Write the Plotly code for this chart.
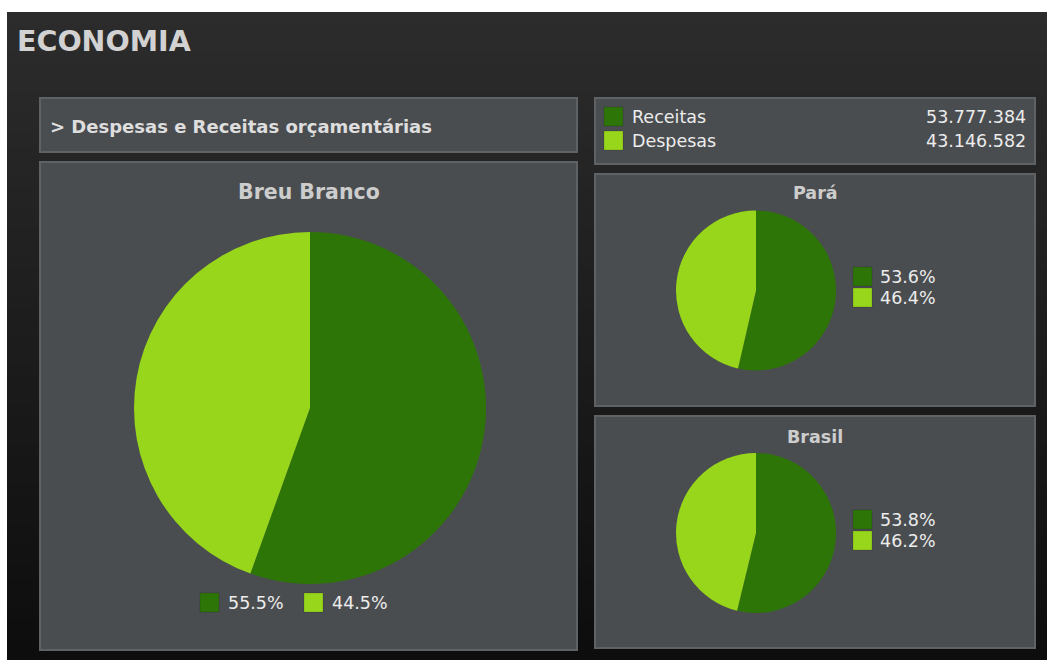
import plotly.graph_objects as go

# ---------------- data ----------------
categories = ["Receitas", "Despesas"]
totals = [53777384, 43146582]
breu_branco = [55.5, 44.5]
para = [53.6, 46.4]
brasil = [53.8, 46.2]
region_names = ["Breu Branco", "Pará", "Brasil"]
section_title = "ECONOMIA"
subtitle = "> Despesas e Receitas orçamentárias"
colors = ["#2e7508", "#97d61a"]

# ---------------- layout helpers ----------------
W, H = 1047, 660
FONT = "DejaVu Sans"


def fx(x):
    return x / W


def fy(y):
    return 1 - y / H


shapes = []
annotations = []

# page background with vertical gradient
top_c = (44, 44, 44)
bot_c = (13, 13, 13)
y0, y1 = 12, 660
n = 48
for i in range(n):
    t = i / (n - 1)
    c = tuple(round(top_c[k] + (bot_c[k] - top_c[k]) * t) for k in range(3))
    ya = y0 + (y1 - y0) * i / n
    yb = y0 + (y1 - y0) * (i + 1) / n + 0.6
    shapes.append(dict(type="rect", xref="paper", yref="paper", layer="below",
                       x0=fx(7), x1=fx(W), y0=fy(min(yb, H)), y1=fy(ya),
                       fillcolor="rgb(%d,%d,%d)" % c, line=dict(width=0)))

PANEL_FILL = "#4a4d50"
PANEL_LINE = "#5f6264"


def panel(x0, y0, x1, y1):
    shapes.append(dict(type="rect", xref="paper", yref="paper", layer="below",
                       x0=fx(x0 + 1), x1=fx(x1 - 1), y0=fy(y1 - 1), y1=fy(y0 + 1),
                       fillcolor=PANEL_FILL, line=dict(color=PANEL_LINE, width=2)))


panel(39, 97, 578, 153)
panel(39, 161, 578, 651)
panel(594, 97, 1036, 165)
panel(594, 173, 1036, 407)
panel(594, 415, 1036, 649)


def square(x, y, color, size=19):
    shapes.append(dict(type="rect", xref="paper", yref="paper", layer="above",
                       x0=fx(x), x1=fx(x + size), y0=fy(y + size), y1=fy(y),
                       fillcolor=color, line=dict(color="rgba(0,0,0,0.15)", width=1)))


def text(x, y, s, size, color="#e6e6e6", bold=False, anchor="left"):
    annotations.append(dict(xref="paper", yref="paper", x=fx(x), y=fy(y),
                            xanchor=anchor, yanchor="middle", showarrow=False,
                            text=("<b>%s</b>" % s) if bold else s,
                            font=dict(family=FONT, size=size, color=color)))


def fmt_num(v):
    return f"{v:,}".replace(",", ".")


def fmt_pct(v):
    return f"{v:.1f}%"


# headings
text(15, 41, section_title, 28.5, color="#d2d2d2", bold=True)
text(48, 126, subtitle, 18, color="#dedede", bold=True)

# top-right legend
for i, (cat, tot) in enumerate(zip(categories, totals)):
    yy = 107 + i * 24
    square(604, yy, colors[i])
    text(630, yy + 10, cat, 17.5, color="#ececec")
    text(1028, yy + 10, fmt_num(tot), 17.5, color="#ececec", anchor="right")

# ---------------- pies ----------------
fig = go.Figure()


def add_pie(values, name, cx, cy, r):
    fig.add_trace(go.Pie(
        values=values, labels=categories, name=name,
        marker=dict(colors=colors, line=dict(width=0)),
        sort=False, direction="clockwise", rotation=0,
        textinfo="none", hoverinfo="label+percent", showlegend=False,
        domain=dict(x=[fx(cx - r), fx(cx + r)], y=[fy(cy + r), fy(cy - r)]),
    ))


add_pie(breu_branco, region_names[0], 310, 408, 176)
add_pie(para, region_names[1], 756, 290.5, 80)
add_pie(brasil, region_names[2], 756, 533, 80)

# pie titles
text(309, 192, region_names[0], 20.5, color="#cdcdcd", bold=True, anchor="center")
text(815, 193, region_names[1], 17.5, color="#cdcdcd", bold=True, anchor="center")
text(815, 437, region_names[2], 17.5, color="#cdcdcd", bold=True, anchor="center")

# pie legends
for i, v in enumerate(breu_branco):
    xx = 200 + i * 104
    square(xx, 593, colors[i])
    text(xx + 26, 603, fmt_pct(v), 17.5, color="#ececec")

for vals, top in ((para, 267), (brasil, 510)):
    for i, v in enumerate(vals):
        yy = top + i * 21
        square(853, yy, colors[i])
        text(878, yy + 10, fmt_pct(v), 17.5, color="#ececec")

fig.update_layout(
    width=W, height=H, margin=dict(l=0, r=0, t=0, b=0),
    paper_bgcolor="#ffffff", plot_bgcolor="#ffffff",
    shapes=shapes, annotations=annotations,
    font=dict(family=FONT),
)

fig.write_html("out.html", config={"displayModeBar": False},
               post_script="document.body.style.margin='0';")
